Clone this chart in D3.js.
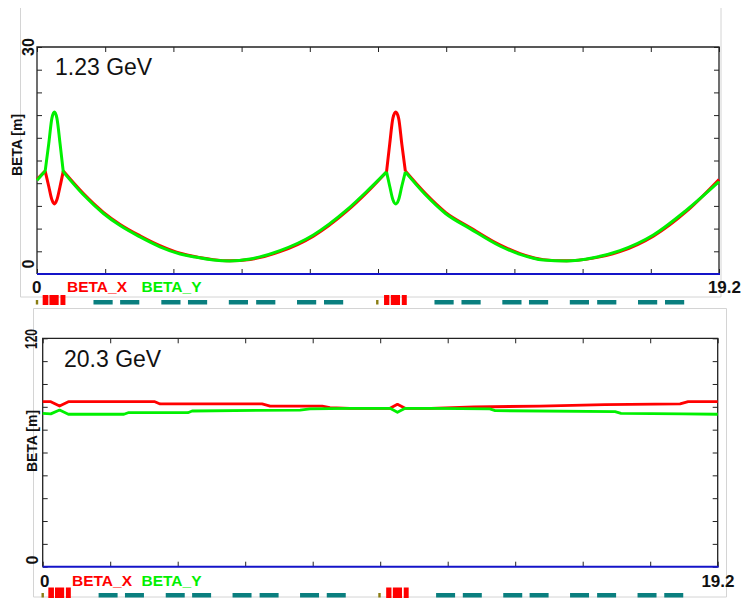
<!DOCTYPE html>
<html>
<head>
<meta charset="utf-8">
<script src="https://cdn.jsdelivr.net/npm/d3@7"></script>
<style>
  html, body { margin: 0; padding: 0; background: #fff; }
  svg { display: block; font-family: "Liberation Sans", Arial, sans-serif; }
</style>
</head>
<body>
<svg id="chart" width="742" height="599"></svg>
<script>
// ---- Lattice / optics data -------------------------------------------------
const ringLength = 19.2;               // m, horizontal extent of both plots

// 1.23 GeV optics: position s [m], beta functions [m]
const sLow = [0, 0.23, 0.33, 0.42, 0.49, 0.56, 0.65, 0.74, 1.30, 1.87, 2.34, 2.90, 3.46, 4.03, 4.40, 4.96,
  5.43, 6.00, 6.84, 7.78, 8.72, 9.28, 9.84, 9.93, 10.02, 10.10, 10.18, 10.27, 10.37, 10.93, 11.50, 12.19,
  13.03, 13.60, 14.25, 14.91, 15.66, 16.41, 17.35, 18.29, 19.20];
const betaXLow = [12.5, 13.6, 11.6, 9.8, 9.25, 9.8, 11.6, 13.6, 10.65, 8.15, 6.55, 5.05, 3.75, 2.75, 2.35, 1.9,
  1.74, 1.93, 2.95, 5.0, 8.3, 10.75, 13.5, 17.2, 20.6, 21.4, 20.6, 17.2, 13.6, 10.65, 8.15, 6.15,
  3.85, 2.7, 1.9, 1.74, 2.1, 2.95, 5.0, 8.3, 12.5];
const betaYLow = [12.4, 13.6, 17.2, 20.6, 21.4, 20.6, 17.2, 13.5, 10.5, 8.0, 6.4, 4.9, 3.6, 2.65, 2.29, 1.85,
  1.72, 1.98, 3.08, 5.15, 8.46, 10.9, 13.5, 11.6, 9.8, 9.25, 9.8, 11.6, 13.5, 10.5, 8.0, 6.0,
  3.7, 2.6, 1.85, 1.72, 2.15, 3.08, 5.15, 8.46, 12.2];
// positions where the low-energy curves have a sharp corner (element edges)
const lowKinks = [0.23, 0.74, 9.84, 10.37];

// 20.3 GeV optics
const sHighX = [0, 0.23, 0.48, 0.73, 3.19, 3.34, 6.24, 6.47, 7.95, 8.17, 8.74, 9.88, 10.09, 10.31, 11.04,
  12.27, 14.14, 15.99, 18.13, 18.36, 19.20];
const betaXHigh = [86.7, 86.7, 84.4, 86.7, 86.7, 85.5, 85.5, 84.4, 84.4, 83.6, 83.2, 83.2, 85.3, 83.2, 83.2,
  83.9, 84.4, 85.2, 85.5, 86.7, 86.7];
const sHighY = [0, 0.23, 0.48, 0.73, 2.31, 2.43, 4.13, 4.25, 7.32, 7.60, 8.74, 9.88, 10.09, 10.31, 11.04,
  12.72, 12.87, 16.28, 16.45, 18.21, 19.20];
const betaYHigh = [80.6, 80.3, 82.3, 80.1, 80.1, 80.9, 80.9, 81.8, 82.3, 82.9, 83.2, 83.2, 81.1, 83.2, 83.2,
  82.9, 82.0, 81.5, 80.6, 80.3, 80.1];

// Lattice elements along s [m]
const quadStarts  = [0.16, 0.35, 0.66, 9.77, 9.96, 10.27];
const quadLengths = [0.16, 0.26, 0.14, 0.15, 0.26, 0.14];
const sextStarts  = [1.59, 2.34, 3.50, 4.25, 5.40, 6.17, 7.32, 8.08,
                     11.19, 11.95, 13.10, 13.85, 15.00, 15.77, 16.92, 17.68];
const sextLength  = 0.54;
const markerS     = [0, 9.58];

// Labels
const energyLabels = ["1.23 GeV", "20.3 GeV"];
const betaMax      = [30, 120];
const sEndLabels   = ["0", "19.2"];
const legendNames  = ["BETA_X", "BETA_Y"];
const yAxisTitle   = "BETA [m]";

// ---- Layout ----------------------------------------------------------------
const colX = "#ff0000", colY = "#00f000";
const panels = [
  {
    plot: { x0: 37, x1: 719, y0: 47, y1: 274 },
    frame: { left: 20.5, right: 721, top: 8, bottom: 297, drawTop: false },
    strip: { quadTop: 295, quadBot: 305, smallTop: 300, smallBot: 304.5 },
    maxLabel: { x: 33.5, y: 47, len: null },
    zeroLabel: { x: 33.5, y: 264 },
    title: { x: 22, y: 145 },
    energy: { x: 55, y: 75 },
    below: { y: 292.5, zeroX: 32, legendX: [67, 141.5], endX: 741 },
    bx: betaXLow, by: betaYLow, sx: sLow, sy: sLow, kinks: lowKinks, smooth: true, width: 3
  },
  {
    plot: { x0: 42.7, x1: 717.7, y0: 338.3, y1: 566.7 },
    frame: { left: 33.5, right: 726.5, top: 308.5, bottom: 597, drawTop: true },
    strip: { quadTop: 587.5, quadBot: 598, smallTop: 593, smallBot: 597.5 },
    maxLabel: { x: 36.5, y: 339, len: 20 },
    zeroLabel: { x: 37.5, y: 560 },
    title: { x: 36.5, y: 441 },
    energy: { x: 64, y: 366.5 },
    below: { y: 586.5, zeroX: 40, legendX: [72, 141.5], endX: 734.5 },
    sx: sHighX, bx: betaXHigh, sy: sHighY, by: betaYHigh, kinks: [], smooth: false, width: 2.8
  }
];

const svg = d3.select("#chart");

panels.forEach((p, i) => {
  const g = svg.append("g");
  const pl = p.plot;
  const x = d3.scaleLinear().domain([0, ringLength]).range([pl.x0, pl.x1]);
  const y = d3.scaleLinear().domain([0, betaMax[i]]).range([pl.y1, pl.y0]);

  // light outer frame
  const fr = p.frame;
  const fl = [[fr.left, fr.top, fr.left, fr.bottom], [fr.right, fr.top, fr.right, fr.bottom],
              [fr.left, fr.bottom, fr.right, fr.bottom]];
  if (fr.drawTop) fl.push([fr.left, fr.top, fr.right, fr.top]);
  fl.forEach(l => g.append("line").attr("x1", l[0]).attr("y1", l[1]).attr("x2", l[2]).attr("y2", l[3])
    .attr("stroke", "#d4d4d4").attr("stroke-width", 1));

  // axes with inward ticks, no labels
  const xt = d3.range(0, 11).map(k => k * ringLength / 10);
  const yt = d3.range(0, 11).map(k => k * betaMax[i] / 10);
  const styleAxis = sel => {
    sel.select(".domain").remove();
    sel.selectAll(".tick line").attr("stroke", "#222").attr("stroke-width", 1);
  };
  g.append("g").attr("transform", `translate(${pl.x0},0)`)
    .call(d3.axisRight(y).tickValues(yt).tickSize(5).tickFormat("")).call(styleAxis);
  g.append("g").attr("transform", `translate(${pl.x1},0)`)
    .call(d3.axisLeft(y).tickValues(yt).tickSize(5).tickFormat("")).call(styleAxis);
  g.append("g").attr("transform", `translate(0,${pl.y0})`)
    .call(d3.axisBottom(x).tickValues(xt).tickSize(5).tickFormat("")).call(styleAxis);
  g.append("g").attr("transform", `translate(0,${pl.y1})`)
    .call(d3.axisTop(x).tickValues(xt).tickSize(5).tickFormat("")).call(styleAxis);

  // plot box: dark left/top/right, blue baseline
  g.append("path")
    .attr("d", `M${pl.x0},${pl.y1}V${pl.y0}H${pl.x1}V${pl.y1}`)
    .attr("fill", "none").attr("stroke", "#222").attr("stroke-width", 1.3);
  g.append("line").attr("x1", pl.x0).attr("x2", pl.x1 + 1).attr("y1", pl.y1).attr("y2", pl.y1)
    .attr("stroke", "#1414c8").attr("stroke-width", 2);

  // beta curves: smooth between element edges, sharp corners at the edges
  const line = d3.line().x(d => x(d[0])).y(d => y(d[1]))
    .curve(p.smooth ? d3.curveMonotoneX : d3.curveLinear);
  const pathFor = (sArr, bArr) => {
    const pts = sArr.map((s, k) => [s, bArr[k]]);
    const segs = [];
    let cur = [];
    pts.forEach(pt => {
      cur.push(pt);
      if (p.kinks.includes(pt[0])) { segs.push(cur); cur = [pt]; }
    });
    if (cur.length > 1) segs.push(cur);
    return segs.map(sg => line(sg)).join("");
  };
  g.append("path").attr("d", pathFor(p.sx, p.bx)).attr("fill", "none").attr("stroke", colX)
    .attr("stroke-width", p.width).attr("stroke-linejoin", "round");
  g.append("path").attr("d", pathFor(p.sy, p.by)).attr("fill", "none").attr("stroke", colY)
    .attr("stroke-width", p.width).attr("stroke-linejoin", "round");

  // energy label
  g.append("text").attr("x", p.energy.x).attr("y", p.energy.y)
    .attr("font-size", 23).attr("fill", "#111").text(energyLabels[i]);

  // vertical axis labels
  const rot = (tx, ty) => `translate(${tx},${ty}) rotate(-90)`;
  const maxT = g.append("text").attr("transform", rot(p.maxLabel.x, p.maxLabel.y))
    .attr("text-anchor", "middle").attr("font-size", 16).attr("font-weight", "bold").attr("fill", "#111")
    .text(String(betaMax[i]));
  if (p.maxLabel.len) maxT.attr("textLength", p.maxLabel.len).attr("lengthAdjust", "spacingAndGlyphs");
  g.append("text").attr("transform", rot(p.zeroLabel.x, p.zeroLabel.y))
    .attr("text-anchor", "middle").attr("font-size", 16).attr("font-weight", "bold").attr("fill", "#111")
    .text("0");
  g.append("text").attr("transform", rot(p.title.x, p.title.y))
    .attr("text-anchor", "middle").attr("font-size", 14).attr("font-weight", "bold").attr("fill", "#111")
    .text(yAxisTitle);

  // s-range labels and legend beneath the axis
  g.append("text").attr("x", p.below.zeroX).attr("y", p.below.y)
    .attr("font-size", 17).attr("font-weight", "bold").attr("fill", "#111").text(sEndLabels[0]);
  g.append("text").attr("x", p.below.endX).attr("y", p.below.y).attr("text-anchor", "end")
    .attr("font-size", 17).attr("font-weight", "bold").attr("fill", "#111").text(sEndLabels[1]);
  [colX, colY].forEach((c, k) => {
    g.append("text").attr("x", p.below.legendX[k]).attr("y", p.below.y - 0.5)
      .attr("font-size", 15.5).attr("font-weight", "bold").attr("fill", c).text(legendNames[k]);
  });

  // lattice element strip
  const st = p.strip;
  g.selectAll(null).data(sextStarts).join("rect")
    .attr("x", d => x(d)).attr("width", d => x(d + sextLength) - x(d))
    .attr("y", st.smallTop).attr("height", st.smallBot - st.smallTop).attr("fill", "#0a7f7f");
  g.selectAll(null).data(quadStarts).join("rect")
    .attr("x", d => x(d)).attr("width", (d, k) => x(d + quadLengths[k]) - x(d))
    .attr("y", st.quadTop).attr("height", st.quadBot - st.quadTop).attr("fill", "#ff0000");
  g.selectAll(null).data(markerS).join("rect")
    .attr("x", d => x(d) - 1.2).attr("width", 2.4)
    .attr("y", st.smallTop).attr("height", st.smallBot - st.smallTop).attr("fill", "#8a7d12");
});
</script>
</body>
</html>
